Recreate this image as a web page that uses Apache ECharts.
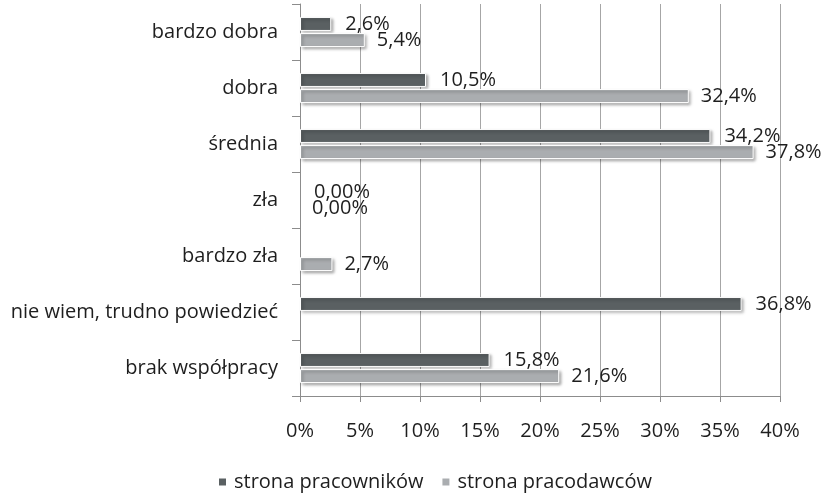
<!DOCTYPE html>
<html>
<head>
<meta charset="utf-8">
<script src="https://cdn.jsdelivr.net/npm/echarts@6/dist/echarts.min.js"></script>
<style>html,body{margin:0;padding:0;background:#fff;}#c{width:821px;height:497px;}</style>
</head>
<body>
<div id="c"></div>
<script>
const categories = ["bardzo dobra", "dobra", "średnia", "zła", "bardzo zła", "nie wiem, trudno powiedzieć", "brak współpracy"];
const seriesNames = ["strona pracowników", "strona pracodawców"];
const pracownicy = [2.6, 10.5, 34.2, 0, null, 36.8, 15.8];
const pracodawcy = [5.4, 32.4, 37.8, 0, 2.7, null, 21.6];
const xTicks = [0, 5, 10, 15, 20, 25, 30, 35, 40];

const FONT = "Open Sans";
const FS = 20;
const TXT = "#1e1e1e";
function fmt(v) {
  if (v === 0) return "0,00%";
  return v.toFixed(1).replace(".", ",") + "%";
}
const chart = echarts.init(document.getElementById("c"));
const barStyle = (color) => ({
  color: color,
  borderColor: "#ffffff",
  borderWidth: 1,
  shadowColor: "rgba(0,0,0,0.35)",
  shadowBlur: 3,
  shadowOffsetX: 2,
  shadowOffsetY: 2
});
function toData(arr) {
  return arr.map(v => v === 0
    ? { value: v, itemStyle: { borderWidth: 0, shadowBlur: 0, shadowColor: "rgba(0,0,0,0)" } }
    : v);
}
chart.setOption({
  animation: false,
  grid: { left: 300, right: 41, top: 4, bottom: 101, containLabel: false },
  legend: {
    bottom: 0,
    left: 212,
    itemWidth: 9,
    itemHeight: 9,
    itemGap: 17,
    icon: "rect",
    textStyle: { fontFamily: FONT, fontSize: FS, color: TXT, padding: [0, 0, 0, 2] },
    data: seriesNames
  },
  xAxis: {
    type: "value",
    min: xTicks[0],
    max: xTicks[xTicks.length - 1],
    interval: 5,
    axisLine: { show: true, lineStyle: { color: "#8c8c8c" } },
    axisTick: { show: true, length: 6, lineStyle: { color: "#8c8c8c" } },
    splitLine: { show: true, lineStyle: { color: "#a6a6a6", width: 1 } },
    axisLabel: {
      margin: 25,
      fontFamily: FONT, fontSize: FS, color: TXT,
      formatter: (v) => v + "%"
    }
  },
  yAxis: {
    type: "category",
    inverse: true,
    data: categories,
    axisLine: { show: true, lineStyle: { color: "#8c8c8c" } },
    axisTick: { show: true, length: 8, lineStyle: { color: "#8c8c8c" } },
    axisLabel: { margin: 22, fontFamily: FONT, fontSize: FS, color: TXT }
  },
  series: [
    {
      name: seriesNames[0], type: "bar", data: toData(pracownicy),
      barWidth: 14, barGap: "15%",
      itemStyle: barStyle("#5a6062"),
      label: { show: true, position: "right", distance: 14, fontFamily: FONT, fontSize: FS, color: TXT,
        formatter: (p) => p.value == null ? "" : fmt(p.value) }
    },
    {
      name: seriesNames[1], type: "bar", data: toData(pracodawcy),
      barWidth: 14, barGap: "15%",
      itemStyle: barStyle("#aaadb0"),
      label: { show: true, position: "right", distance: 12, fontFamily: FONT, fontSize: FS, color: TXT,
        formatter: (p) => p.value == null ? "" : fmt(p.value) }
    }
  ]
});
</script>
</body>
</html>
